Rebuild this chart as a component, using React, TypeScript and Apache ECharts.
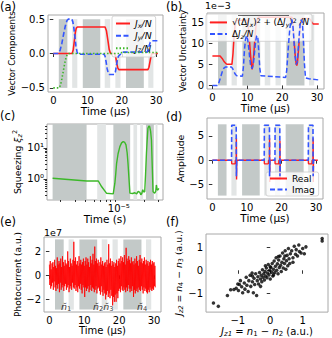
import React, { useEffect, useRef } from "react";
import * as echarts from "echarts";

const FONT = "DejaVu Sans";
const RED = "#ff1f1f";
const BLUE = "#3355ff";
const GREEN = "#3cb829";
const DARK = "#c3c9c8";
const LIGHT = "#e2e5e5";
const FRAME = "#a8a8a8";

// shaded time windows (µs)
const regionStart = [1.6, 5.5, 8.6, 15.0, 18.1, 21.2, 27.7];
const regionEnd = [4.1, 7.0, 13.7, 16.6, 19.6, 26.4, 29.2];
const regionDark = [true, false, true, false, false, true, false];

// (a) vector components
const jxT = [0, 5.5, 5.8, 6.1, 6.4, 6.7, 7.0, 15.1, 15.5, 15.9, 16.3, 16.7, 17.9, 18.2, 18.5, 18.8, 19.1, 27.6, 27.9, 28.2, 28.5, 28.8, 30.5];
const jxV = [0, 0, 0.05, 0.17, 0.3, 0.37, 0.385, 0.385, 0.33, 0.2, 0.06, 0, 0, -0.05, -0.14, -0.21, -0.235, -0.235, -0.2, -0.12, -0.04, 0, 0];
const jyT = [0, 1.5, 2.0, 2.5, 3.0, 3.5, 4.0, 4.4, 5.4, 5.7, 6.0, 6.3, 6.6, 6.9, 7.2, 14.8, 15.1, 15.4, 15.7, 16.0, 16.3, 17.8, 18.1, 18.4, 18.7, 19.0, 19.4, 19.8, 20.2, 27.4, 27.7, 28.0, 28.3, 28.6, 28.9, 30.5];
const jyV = [0, 0, 0.05, 0.15, 0.28, 0.4, 0.48, 0.5, 0.5, 0.46, 0.37, 0.24, 0.11, 0.03, -0.01, -0.01, -0.04, -0.12, -0.22, -0.28, -0.305, -0.305, -0.27, -0.18, -0.09, -0.04, -0.02, 0.0, 0.02, 0.02, 0.06, 0.12, 0.165, 0.18, 0.185, 0.185];
const jzT = [0, 1.7, 2.1, 2.5, 2.9, 3.3, 3.7, 4.1, 4.5, 19.5, 20.0, 30.5];
const jzV = [-0.5, -0.5, -0.46, -0.37, -0.26, -0.15, -0.06, -0.01, 0, 0, 0.015, 0.015];

// (b) uncertainties (×1e-3)
const perpT = [0, 2.2, 2.8, 3.4, 4.0, 4.4, 5.6, 5.9, 6.2, 6.5, 6.8, 7.1, 10.0, 10.3, 10.6, 10.9, 11.2, 11.4, 11.6, 11.9, 12.2, 12.5, 12.8, 13.2, 22.8, 23.1, 23.4, 23.7, 24.0, 24.2, 24.4, 24.7, 25.0, 25.3, 25.6, 27.7, 28.1, 28.5, 28.9, 30.5];
const perpV = [7.0, 7.0, 6.4, 5.6, 5.1, 5.0, 5.0, 7.5, 11.5, 14.3, 15.3, 15.5, 15.5, 14.0, 11.0, 7.5, 4.8, 3.8, 4.8, 7.8, 11.3, 14.2, 15.6, 16.2, 16.2, 14.5, 11.0, 7.5, 5.2, 4.7, 5.5, 8.5, 12.0, 14.8, 15.9, 15.9, 15.6, 15.0, 14.6, 14.6];
const dzT = [0, 1.4, 1.8, 2.3, 2.8, 3.3, 3.8, 5.4, 5.8, 6.2, 6.6, 7.0, 8.6, 8.9, 9.2, 9.5, 9.8, 10.1, 10.4, 10.7, 11.0, 11.4, 11.8, 12.1, 12.4, 12.7, 13.0, 13.3, 13.6, 13.9, 21.0, 21.3, 21.6, 21.9, 22.2, 22.5, 22.8, 23.1, 23.4, 23.7, 24.0, 24.3, 24.6, 24.9, 25.2, 25.5, 25.8, 26.1, 26.4, 26.7, 27.7, 30.5];
const dzV = [0, 0, 0.5, 1.8, 3.2, 4.1, 4.4, 4.4, 4.0, 3.2, 2.6, 2.3, 2.2, 4.5, 8.5, 11.0, 11.8, 11.0, 9.0, 6.5, 4.5, 4.0, 5.5, 8.0, 10.5, 11.8, 11.6, 8.0, 4.0, 2.3, 1.9, 3.5, 7.0, 10.5, 13.5, 15.3, 15.6, 14.0, 10.5, 7.0, 5.0, 5.5, 8.5, 12.0, 14.8, 15.6, 15.0, 10.5, 5.0, 1.8, 1.6, 1.3];

// (c) squeezing (time in µs)
const xiT = [1.6, 4.12, 5.67, 6.23, 7.14, 8.57, 8.97, 9.2, 9.41, 9.8, 10.3, 10.8, 11.3, 11.8, 12.2, 12.6, 12.9, 13.6, 14.6, 15.6, 16.4, 17.1, 17.9, 18.4, 18.9, 19.4, 20.0, 20.5, 21.0, 21.5, 22.0, 22.4, 23.0, 23.5, 24.1, 24.7, 25.2, 25.8, 27.0, 27.8, 28.3, 28.9, 29.5, 30.3];
const xiV = [1.05, 0.86, 0.86, 0.56, 0.345, 0.33, 0.73, 1.5, 3.2, 6.5, 11, 14.5, 16, 15, 12.5, 7, 3.2, 0.35, 0.34, 0.36, 0.33, 0.4, 0.37, 0.31, 0.34, 0.45, 0.38, 0.39, 1.5, 6.7, 20, 43, 51, 48.6, 35, 18, 3, 0.39, 0.35, 0.4, 0.64, 0.45, 0.44, 0.5];
const minorX = [2, 3, 4, 5, 6, 7, 8, 9, 20, 30]; // µs
const minorY = [0.3, 0.4, 0.5, 0.6, 0.7, 0.8, 0.9, 2, 3, 4, 5, 6, 7, 8, 9, 20, 30, 40, 50];

// (d) control amplitudes
const imT = [0, 5.55, 5.6, 6.9, 6.95, 7.05, 15.0, 15.05, 16.5, 16.55, 16.65, 18.1, 18.15, 19.5, 19.55, 19.65, 27.75, 27.8, 29.1, 29.15, 29.25, 30.5];
const imV = [0, 0, 7.2, 7.2, -3.3, 0, 0, 7.2, 7.2, -3.3, 0, 0, 7.2, 7.2, -3.3, 0, 0, 7.2, 7.2, -3.3, 0, 0];
const reT = [
  0,
  5.55, 5.6, 6.6, 6.65, 6.9, 6.95, 7.0, 7.05,
  15.0, 15.05, 16.2, 16.25, 16.5, 16.55, 16.6, 16.65,
  18.1, 18.15, 19.2, 19.25, 19.5, 19.55, 19.6, 19.65,
  27.75, 27.8, 28.8, 28.85, 29.1, 29.15, 29.2, 29.25,
  30.5,
];
const reV = [
  0,
  0, -0.75, -0.75, 0, 0, 4.5, -4, 0,
  0, -0.75, -0.75, 0, 0, 4.5, -4.5, 0,
  0, -0.75, -0.75, 0, 0, 4, -4, 0,
  0, -0.75, -0.75, 0, 0, 4.5, -4.5, 0,
  0,
];

// (e) photocurrent (×1e7), sampled every 0.125 µs from t = 0
const pcDt = 0.125;
const pcV = [
  0.9, -0.8, 1.2, -1.1, 0.5, -0.9, 1.0, -0.6,
  1.1, -1.2, 0.7, -0.5, 1.3, -1.0, 0.8, -1.3,
  0.6, -0.8, 1.5, -1.1, 0.9, -0.7, 1.2, -1.4,
  1.0, -0.6, 1.4, -1.2, 0.7, -1.0, 1.6, -0.8,
  1.1, -1.3, 0.8, -0.9, 1.3, -0.7, 1.0, -1.2,
  0.9, -1.0, 2.0, -0.8, 1.2, -1.4, 0.7, -1.1,
  1.4, -0.9, 1.0, -1.2, 0.8, -0.6, 1.3, -1.0,
  2.8, -1.1, 1.2, -0.8, 1.5, -1.3, 0.9, -1.0,
  1.2, -1.4, 0.8, -0.9, 1.6, -1.1, 1.0, -0.7,
  1.3, -1.2, 0.9, -1.5, 1.1, -0.8, 1.4, -1.0,
  0.8, -1.8, 1.2, -1.0, 1.5, -1.3, 0.9, -1.1,
  1.4, -0.9, 1.1, -1.4, 0.7, -1.2, 1.6, -0.8,
  1.0, -1.3, 1.3, -1.0, 1.8, -1.1, 0.9, -1.4,
  2.4, -1.2, 1.2, -0.9, 1.4, -1.5, 1.0, -1.1,
  1.3, -1.0, 0.8, -1.3, 1.1, -1.6, 1.5, -0.9,
  0.9, -1.4, 1.2, -1.7, 0.8, -1.2, 1.0, -1.5,
  1.1, -2.0, 0.7, -1.6, 1.3, -1.3, 0.9, -1.8,
  2.6, -1.5, 1.0, -1.9, 1.4, -1.2, 0.8, -1.7,
  1.2, -2.5, 0.9, -1.8, 1.1, -2.2, 0.7, -1.6,
  1.0, -2.2, 1.3, -1.5, 0.8, -1.9, 1.2, -1.3,
  1.4, -1.1, 1.0, -1.4, 1.6, -0.9, 1.2, -1.2,
  1.5, -1.3, 1.1, -1.0, 1.7, -1.2, 0.9, -1.4,
  2.3, -1.0, 1.4, -1.3, 1.2, -0.8, 1.6, -1.1,
  1.3, -1.4, 1.0, -1.1, 1.5, -1.3, 1.1, -0.9,
  1.2, -1.8, 0.9, -1.2, 1.4, -1.5, 1.0, -1.3,
  1.6, -1.1, 1.2, -1.4, 0.8, -1.0, 1.3, -1.2,
  1.7, -1.3, 1.1, -0.9, 1.4, -1.2, 1.0, -1.5,
  1.2, -1.0, 1.5, -1.3, 0.9, -1.1, 1.3, -1.4,
  1.0, -1.5, 1.2, -1.2, 0.8, -1.4, 1.1, -1.0,
  1.3, -1.2, 0.9, -1.3, 1.2, -1.1, 1.0, -1.2,
  1.1, -0.9, 0.8, -1.0,
];
const nLabelT = [4.8, 14.0, 16.9, 26.6];
const nLabelIdx = ["1", "2", "3", "4"];

// (f) correlation scatter
const fx = [-1.75, -1.6, -1.32, -1.22, -1.12, -1.05, -0.98, -0.95, -0.92, -0.88, -0.85, -0.8, -0.78, -0.74, -0.72, -0.68, -0.66, -0.62, -0.6, -0.56, -0.55, -0.52, -0.5, -0.48, -0.45, -0.42, -0.4, -0.38, -0.36, -0.33, -0.3, -0.28, -0.26, -0.24, -0.22, -0.2, -0.18, -0.16, -0.14, -0.12, -0.1, -0.08, -0.06, -0.04, -0.02, 0.0, 0.02, 0.04, 0.06, 0.08, 0.1, 0.12, 0.14, 0.16, 0.18, 0.2, 0.22, 0.24, 0.26, 0.28, 0.3, 0.32, 0.34, 0.36, 0.38, 0.4, 0.42, 0.44, 0.46, 0.48, 0.5, 0.52, 0.54, 0.56, 0.58, 0.6, 0.62, 0.66, 0.7, 0.74, 0.78, 0.8, 0.84, 0.88, 0.9, 0.95, 1.0, 1.05, 1.1, 1.6, 1.6, -1.0, -0.3, 0.0, 0.25, 0.1, -0.15, 0.45, -0.55, 0.7];
const fy = [-1.42, -1.57, -1.1, -0.85, -0.84, -0.78, -0.88, -0.62, -0.45, -0.72, -0.98, -0.55, -0.82, -0.3, -0.65, -0.92, -0.45, -0.22, -0.7, -0.12, -0.5, -0.98, -0.35, -0.62, -0.15, -1.1, -0.45, -0.28, -0.6, -0.1, -0.38, -0.22, -0.5, 0.02, -0.3, -0.15, -0.42, -0.05, -0.25, 0.1, -0.32, -0.12, 0.25, -0.2, 0.0, -0.38, 0.12, -0.08, 0.3, -0.25, 0.05, 0.4, -0.1, 0.18, 0.55, 0.0, 0.28, -0.15, 0.45, 0.12, 0.62, 0.22, -0.05, 0.35, 0.75, 0.1, 0.5, 0.3, 0.85, 0.05, 0.42, 0.65, 0.2, 0.95, 0.5, 0.3, 0.72, 0.85, 0.55, 1.05, 0.7, 0.9, 0.62, 1.1, 0.82, 0.75, 0.95, 0.72, 1.02, 1.38, 1.28, -0.6, -0.7, 0.15, 0.6, -0.2, 0.2, 0.62, -0.25, 0.35];

const zip = (t: number[], v: number[], k = 1) => t.map((x, i) => [x * k, v[i]]);

const makeRich = (size: number) => ({
  t: { fontFamily: FONT, fontSize: size, color: "#000" },
  i: { fontFamily: FONT, fontSize: size, fontStyle: "italic", color: "#000" },
  s: { fontFamily: FONT, fontSize: size * 0.7, fontStyle: "italic", color: "#000", padding: [size * 0.5, 0, 0, 0] },
  u: { fontFamily: FONT, fontSize: size * 0.7, color: "#000", padding: [size * 0.5, 0, 0, 0] },
  p: { fontFamily: FONT, fontSize: size * 0.7, color: "#000", padding: [0, 0, size * 0.55, 0] },
});

const minus = (s: string) => s.replace("-", "\u2212");
const supDigits: Record<string, string> = { "-": "\u207b", "0": "\u2070", "1": "\u00b9", "2": "\u00b2", "3": "\u00b3", "4": "\u2074", "5": "\u2075", "6": "\u2076", "7": "\u2077", "8": "\u2078", "9": "\u2079" };
const powLabel = (v: number) => {
  const l = Math.log10(v);
  const e = Math.round(l);
  if (Math.abs(l - e) > 1e-6) return "";
  return "10" + String(e).split("").map((c) => supDigits[c]).join("");
};

function shading(lo: number | null, hi: number | null, k = 1) {
  return {
    silent: true,
    data: regionStart.map((s, i) => [
      { xAxis: s * k, ...(lo !== null ? { yAxis: lo } : {}), itemStyle: { color: regionDark[i] ? DARK : LIGHT } },
      { xAxis: regionEnd[i] * k, ...(hi !== null ? { yAxis: hi } : {}) },
    ]),
  };
}

const tickStyle = { color: "#000", width: 0.8 };
const labelBase = { fontFamily: FONT, fontSize: 10, color: "#000", margin: 3 };
const nameStyle = (size: number) => ({ fontFamily: FONT, fontSize: size, color: "#000", rich: makeRich(size) });

function vAxis(grid: number, min: number, max: number, ticks: number[], fmt: (v: number) => string, extra: any = {}) {
  return {
    gridIndex: grid,
    type: "value",
    min,
    max,
    axisLine: { show: false },
    axisTick: { show: true, length: 3.5, customValues: ticks, lineStyle: tickStyle },
    axisLabel: { ...labelBase, customValues: ticks, formatter: fmt },
    splitLine: { show: false },
    nameLocation: "middle",
    nameTextStyle: nameStyle(9.3),
    ...extra,
  };
}

const T_MIN = -1.55;
const T_MAX = 32;
const timeTicks = [0, 10, 20, 30];
const intFmt = (v: number) => minus(String(Math.round(v)));
const C_XMIN = 1.37e-6, C_XMAX = 3.4e-5, C_YMIN = 0.21, C_YMAX = 59;

function overlay(grid: number, dir: "x" | "y", min: number, max: number, ticks: number[], len: number) {
  return {
    gridIndex: grid,
    type: "value",
    position: dir === "x" ? "bottom" : "left",
    min: Math.log10(min),
    max: Math.log10(max),
    axisLine: { show: false },
    axisLabel: { show: false },
    splitLine: { show: false },
    axisTick: { show: true, length: len, customValues: ticks.map((v) => Math.log10(v)), lineStyle: tickStyle },
  };
}

function buildOption(): any {
  const grids = [
    { left: 48, top: 15, width: 115, height: 77 },
    { left: 207, top: 13, width: 117, height: 76 },
    { left: 47, top: 124, width: 116, height: 76 },
    { left: 207, top: 118, width: 116, height: 81 },
    { left: 44, top: 237, width: 117, height: 75 },
    { left: 206, top: 234, width: 122, height: 81 },
  ].map((g) => ({ ...g, show: true, borderColor: FRAME, borderWidth: 1, backgroundColor: "transparent", containLabel: false }));

  const tName = { name: "Time (\u03bcs)", nameGap: 12, nameTextStyle: nameStyle(10.5) };
  const xAxis = [
    vAxis(0, T_MIN, T_MAX, timeTicks, intFmt, tName),
    vAxis(1, T_MIN, T_MAX, timeTicks, intFmt, tName),
    {
      gridIndex: 2, type: "log", logBase: 10, min: C_XMIN, max: C_XMAX,
      axisLine: { show: false }, axisTick: { show: false }, splitLine: { show: false },
      axisLabel: { ...labelBase, formatter: powLabel },
      name: "Time (s)", nameLocation: "middle", nameGap: 13, nameTextStyle: nameStyle(10.5),
    },
    vAxis(3, T_MIN, T_MAX, timeTicks, intFmt, { ...tName, nameGap: 13 }),
    vAxis(4, T_MIN, T_MAX, timeTicks, intFmt, { ...tName, nameGap: 13, nameTextStyle: nameStyle(10) }),
    vAxis(5, -1.98, 1.78, [-1, 0, 1], intFmt, {
      name: "{i|J}{s|z1}{t| = }{i|n}{u|1}{t| \u2212 }{i|n}{u|2}{t| (a.u.)}", nameGap: 12, nameTextStyle: nameStyle(10),
    }),
    overlay(2, "x", C_XMIN, C_XMAX, [1e-5], 3.5),
    overlay(2, "x", C_XMIN, C_XMAX, minorX.map((v) => v * 1e-6), 2),
  ];
  const yAxis = [
    vAxis(0, -0.56, 0.56, [-0.5, 0, 0.5], (v) => minus(v.toFixed(1)), { name: "Vector Components", nameGap: 23, nameTextStyle: nameStyle(8.6) }),
    vAxis(1, -0.85, 17.2, [0, 5, 10, 15], intFmt, { name: "Vector Uncertainty", nameGap: 19, nameTextStyle: nameStyle(8.8) }),
    {
      gridIndex: 2, type: "log", logBase: 10, min: C_YMIN, max: C_YMAX,
      axisLine: { show: false }, axisTick: { show: false }, splitLine: { show: false },
      axisLabel: { ...labelBase, formatter: powLabel },
      name: "{t|Squeezing }{i|\u03be}{s|z}{p|2}", nameLocation: "middle", nameGap: 20, nameTextStyle: nameStyle(9.3),
    },
    vAxis(3, -8.0, 8.7, [-5, 0, 5], intFmt, { name: "Amplitude", nameGap: 15 }),
    vAxis(4, -3.05, 3.2, [-2, 0, 2], intFmt, { name: "Photocurrent (a.u.)", nameGap: 16, nameTextStyle: nameStyle(9) }),
    vAxis(5, -1.82, 1.58, [-1, 0, 1], intFmt, {
      name: "{i|J}{s|z2}{t| = }{i|n}{u|4}{t| \u2212 }{i|n}{u|3}{t| (a.u.)}", nameGap: 17,
    }),
    overlay(2, "y", C_YMIN, C_YMAX, [1, 10], 3.5),
    overlay(2, "y", C_YMIN, C_YMAX, minorY, 2),
  ];

  const line = (name: string, xi: number, data: number[][], color: string, type: any, width = 1.5, z = 3) => ({
    name, type: "line", xAxisIndex: xi, yAxisIndex: xi, data, showSymbol: false, symbol: "none",
    lineStyle: { color, width, type }, itemStyle: { color }, z, silent: true,
  });
  const shade = (xi: number, area: any) => ({
    type: "line", xAxisIndex: xi, yAxisIndex: xi, data: [], z: 1, silent: true, markArea: area,
  });

  const series = [
    shade(0, shading(-0.5, 0.5)),
    line("jx", 0, zip(jxT, jxV), RED, "solid", 1.6),
    line("jy", 0, zip(jyT, jyV), BLUE, [5, 2.5], 1.6, 4),
    line("jz", 0, zip(jzT, jzV), GREEN, [1.5, 2], 1.6, 5),
    shade(1, shading(0, 16.8)),
    line("perp", 1, zip(perpT, perpV), RED, "solid", 1.5),
    line("dz", 1, zip(dzT, dzV), BLUE, [5, 2.5], 1.5, 4),
    shade(2, shading(null, null, 1e-6)),
    line("xi", 2, zip(xiT, xiV, 1e-6), GREEN, "solid", 1.4),
    shade(3, shading(-7.3, 7.4)),
    line("Real", 3, zip(reT, reV), RED, "solid", 1.4),
    line("Imag", 3, zip(imT, imV), BLUE, [5, 2.5], 1.6, 4),
    shade(4, shading(-2.85, 3.0)),
    line("pc", 4, pcV.map((v, i) => [i * pcDt, v]), "#ff0000", "solid", 0.8),
    {
      type: "scatter", xAxisIndex: 4, yAxisIndex: 4, symbolSize: 0, silent: true, z: 6,
      data: nLabelT.map((t) => [t, -2.6]),
      label: {
        show: true, position: "inside",
        formatter: (p: any) => `{i|n\u0306}{u|${nLabelIdx[p.dataIndex]}}`,
        rich: makeRich(9.5),
      },
    },
    {
      type: "scatter", xAxisIndex: 5, yAxisIndex: 5, symbolSize: 3.5, silent: true,
      itemStyle: { color: "#000" }, data: zip(fx, fy),
    },
  ];

  const legBase = (size: number) => ({
    orient: "vertical", backgroundColor: "rgba(255,255,255,0.8)", borderColor: "#cccccc", borderWidth: 0.8,
    borderRadius: 2, itemGap: 2, itemHeight: 8,
    textStyle: { fontFamily: FONT, fontSize: size, color: "#000", rich: makeRich(size) },
    selectedMode: false, itemStyle: { opacity: 0 },
  });
  const legendText: Record<string, string> = {
    jx: "{i|J}{s|x}{i|/N}",
    jy: "{i|J}{s|y}{i|/N}",
    jz: "{i|J}{s|z}{i|/N}",
    perp: "{t|\u221a(\u0394}{i|J}{s|x}{t|)}{p|2}{t| + (\u0394}{i|J}{s|y}{t|)}{p|2}{t| }{i|/N}",
    dz: "{t|\u0394}{i|J}{s|z}{i|/N}",
    Real: "{t|Real}",
    Imag: "{t|Imag}",
  };
  const legend = [
    { ...legBase(9.3), left: 112, top: 16, itemWidth: 14, padding: [3, 4, 3, 3], data: ["jx", "jy", "jz"], formatter: (n: string) => legendText[n] },
    { ...legBase(8.8), left: 206, top: 14, itemWidth: 17, padding: [3, 3, 2, 3], data: ["perp", "dz"], formatter: (n: string) => legendText[n] },
    { ...legBase(9), left: 266, top: 172, itemWidth: 17, padding: [2, 4, 2, 3], data: ["Real", "Imag"], formatter: (n: string) => legendText[n] },
  ];

  const letter = (txt: string, x: number, y: number) => ({
    type: "text", left: x, top: y, style: { text: txt, fontFamily: FONT, fontSize: 11.5, fill: "#000" },
  });
  const graphic = [
    letter("(a)", 0, 1),
    letter("(b)", 166, 1),
    letter("(c)", 0, 110),
    letter("(d)", 166, 111),
    letter("(e)", 0, 216),
    letter("(f)", 166, 216),
    { type: "text", left: 205, top: 0, style: { text: "1e\u22123", fontFamily: FONT, fontSize: 9.5, fill: "#000" } },
    { type: "text", left: 44, top: 227, style: { text: "1e7", fontFamily: FONT, fontSize: 9.5, fill: "#000" } },
    { type: "line", shape: { x1: 238, y1: 15.5, x2: 289, y2: 15.5 }, style: { stroke: "#000", lineWidth: 0.6 }, z: 10 },
  ];

  return {
    animation: false,
    backgroundColor: "#ffffff",
    textStyle: { fontFamily: FONT },
    grid: grids,
    xAxis,
    yAxis,
    series,
    legend,
    graphic,
  };
}

export default function App() {
  const ref = useRef<HTMLDivElement>(null);
  useEffect(() => {
    document.body.style.margin = "0";
    const chart = echarts.init(ref.current!, null, { renderer: "svg" });
    chart.setOption(buildOption());
    return () => chart.dispose();
  }, []);
  return <div ref={ref} style={{ position: "absolute", left: 0, top: 0, width: 332, height: 338 }} />;
}
